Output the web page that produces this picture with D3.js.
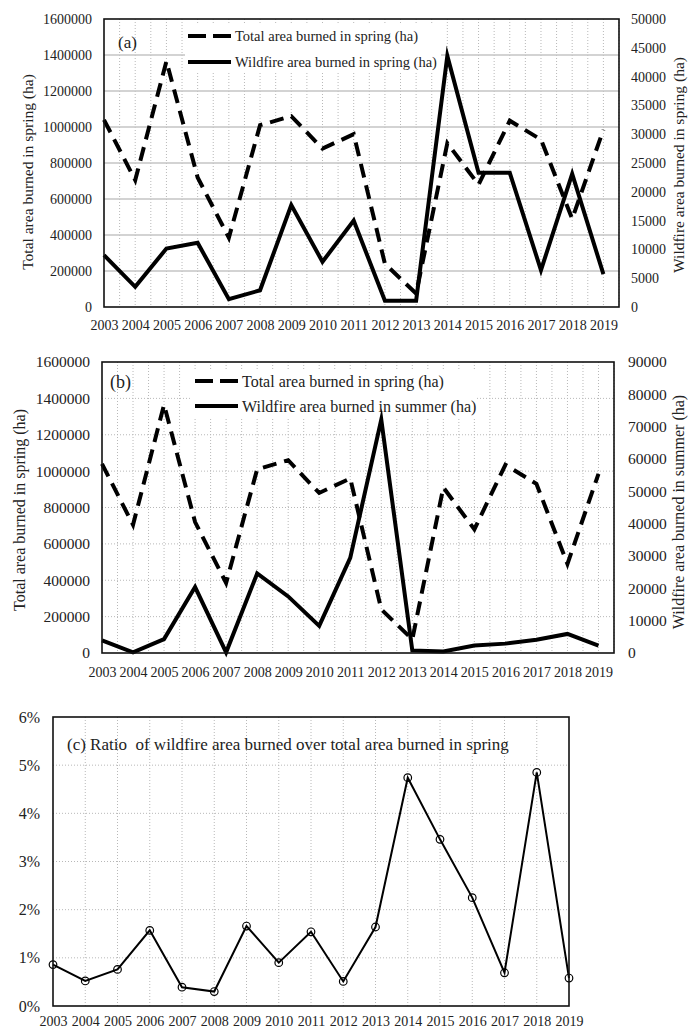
<!DOCTYPE html>
<html>
<head>
<meta charset="utf-8">
<script src="https://cdn.jsdelivr.net/npm/d3@7"></script>
<style>
  html, body { margin: 0; padding: 0; background: #fff; }
  svg { display: block; }
  text { font-family: "Liberation Serif", "Times New Roman", serif; fill: #222; }
</style>
</head>
<body>
<svg id="chart" width="688" height="1030"></svg>
<script>
// ---- data ----
const years = d3.range(2003, 2020);
const springTotal = [1040000, 705000, 1365000, 720000, 385000, 1010000, 1060000, 880000, 960000, 240000, 75000, 910000, 680000, 1035000, 930000, 490000, 985000];
const springWildfire = [9000, 3500, 10150, 11150, 1350, 2900, 17700, 7850, 15000, 1100, 1100, 43600, 23300, 23300, 6400, 23100, 5700];
const summerWildfire = [3900, 200, 4300, 20400, 200, 24600, 17500, 8400, 29400, 72200, 800, 500, 2300, 2900, 4100, 5900, 2300];
const ratioPct = [0.86, 0.52, 0.76, 1.57, 0.39, 0.30, 1.66, 0.90, 1.54, 0.51, 1.64, 4.74, 3.46, 2.25, 0.69, 4.85, 0.58];

const leftTicksAB = d3.range(0, 1600001, 200000);
const rightTicksA = d3.range(0, 50001, 5000);
const rightTicksB = d3.range(0, 90001, 10000);
const ticksC = d3.range(0, 7, 1);

const svg = d3.select("#chart");
const fmt = d3.format("d");

function dualPanel(o) {
  const g = svg.append("g");
  const x = d3.scaleLinear().domain([2003, 2019.5]).range([o.x0, o.x1]);
  const yL = d3.scaleLinear().domain([0, 1600000]).range([o.y1, o.y0]);
  const yR = d3.scaleLinear().domain([0, o.rightMax]).range([o.y1, o.y0]);

  // vertical dotted grid every half year
  g.append("g").selectAll("line").data(d3.range(2003.5, 2019.6, 0.5)).join("line")
    .attr("x1", d => x(d)).attr("x2", d => x(d))
    .attr("y1", o.y0).attr("y2", o.y1)
    .attr("stroke", "#b8b8b8").attr("stroke-width", 1).attr("stroke-dasharray", "1,2");
  // horizontal grid at left ticks
  g.append("g").selectAll("line").data(leftTicksAB.slice(1, -1)).join("line")
    .attr("x1", o.x0).attr("x2", o.x1)
    .attr("y1", d => yL(d)).attr("y2", d => yL(d))
    .attr("stroke", o.solidH ? "#c4c4c4" : "#b8b8b8")
    .attr("stroke-width", o.solidH ? 1.5 : 1)
    .attr("stroke-dasharray", o.solidH ? null : "1,2");

  // legend box
  const lg = g.append("g");
  lg.append("rect").attr("x", o.leg.x - 3).attr("y", o.leg.y1 - 11)
    .attr("width", o.leg.w).attr("height", o.leg.y2 - o.leg.y1 + 22).attr("fill", "#fff");
  lg.append("line").attr("x1", o.leg.x).attr("x2", o.leg.x + 43)
    .attr("y1", o.leg.y1).attr("y2", o.leg.y1)
    .attr("stroke", "#000").attr("stroke-width", 4).attr("stroke-dasharray", "18,7");
  lg.append("line").attr("x1", o.leg.x).attr("x2", o.leg.x + 43)
    .attr("y1", o.leg.y2).attr("y2", o.leg.y2)
    .attr("stroke", "#000").attr("stroke-width", 4);
  lg.append("text").attr("x", o.leg.x + 47).attr("y", o.leg.y1).attr("dominant-baseline", "central")
    .style("font-size", o.legFont + "px").text(o.leg.t1);
  lg.append("text").attr("x", o.leg.x + 47).attr("y", o.leg.y2).attr("dominant-baseline", "central")
    .style("font-size", o.legFont + "px").text(o.leg.t2);
  g.append("text").attr("x", o.tag.x).attr("y", o.tag.y).attr("dominant-baseline", "central")
    .style("font-size", o.tag.size + "px").text(o.tag.t);

  // series
  const dashed = d3.line().x((d, i) => x(years[i])).y(d => yL(d));
  const solid = d3.line().x((d, i) => x(years[i])).y(d => yR(d));
  g.append("path").datum(springTotal).attr("d", dashed)
    .attr("fill", "none").attr("stroke", "#000").attr("stroke-width", 4)
    .attr("stroke-dasharray", "14,8").attr("stroke-linejoin", "miter");
  g.append("path").datum(o.wild).attr("d", solid)
    .attr("fill", "none").attr("stroke", "#000").attr("stroke-width", 4)
    .attr("stroke-linejoin", "miter").attr("stroke-miterlimit", 10);

  // frame
  g.append("rect").attr("x", o.x0).attr("y", o.y0)
    .attr("width", o.x1 - o.x0).attr("height", o.y1 - o.y0)
    .attr("fill", "none").attr("stroke", "#111").attr("stroke-width", 1.6);

  // axes (labels only, no tick marks)
  const aL = g.append("g").attr("transform", `translate(${o.x0},0)`)
    .call(d3.axisLeft(yL).tickValues(leftTicksAB).tickFormat(fmt).tickSize(0).tickPadding(o.padL));
  const aR = g.append("g").attr("transform", `translate(${o.x1},0)`)
    .call(d3.axisRight(yR).tickValues(o.rightTicks).tickFormat(fmt).tickSize(0).tickPadding(o.padR));
  const aX = g.append("g").attr("transform", `translate(0,${o.y1})`)
    .call(d3.axisBottom(x).tickValues(years).tickFormat(fmt).tickSize(0).tickPadding(o.padX));
  [aL, aR, aX].forEach(a => {
    a.select(".domain").remove();
    a.selectAll("text").style("font-size", o.tickFont + "px").attr("fill", "#222")
      .style("font-family", '"Liberation Serif", serif');
  });
  aX.selectAll("text").style("font-size", o.xFont + "px");

  g.append("text").attr("transform", `translate(${o.titleL.x},${o.titleL.y}) rotate(-90)`)
    .attr("text-anchor", "middle").attr("dominant-baseline", "central")
    .style("font-size", o.titleFont + "px").text("Total area burned in spring (ha)");
  g.append("text").attr("transform", `translate(${o.titleR.x},${o.titleR.y}) rotate(-90)`)
    .attr("text-anchor", "middle").attr("dominant-baseline", "central")
    .style("font-size", o.titleFont + "px").text(o.titleR.t);
}

// (a) spring wildfire vs total spring area
dualPanel({
  x0: 104, x1: 619, y0: 19, y1: 307, rightMax: 50000, rightTicks: rightTicksA,
  wild: springWildfire, solidH: true,
  padL: 12, padR: 12, padX: 13, tickFont: 14, xFont: 14, legFont: 14.5, titleFont: 15.5,
  leg: { x: 188, y1: 36, y2: 62, w: 256, t1: "Total area burned in spring (ha)", t2: "Wildfire area burned in spring (ha)" },
  tag: { x: 118, y: 42, size: 17, t: "(a)" },
  titleL: { x: 27, y: 172 },
  titleR: { x: 678, y: 165, t: "Wildfire area burned in spring (ha)" }
});

// (b) summer wildfire vs total spring area
dualPanel({
  x0: 102, x1: 614, y0: 362, y1: 653, rightMax: 90000, rightTicks: rightTicksB,
  wild: summerWildfire, solidH: false,
  padL: 12, padR: 14, padX: 14, tickFont: 15.5, xFont: 14, legFont: 16, titleFont: 16,
  leg: { x: 195, y1: 381, y2: 406, w: 285, t1: "Total area burned in spring (ha)", t2: "Wildfire area burned in summer (ha)" },
  tag: { x: 110, y: 382, size: 18, t: "(b)" },
  titleL: { x: 19, y: 510 },
  titleR: { x: 678, y: 512, t: "Wildfire area burned in summer (ha)" }
});

// (c) ratio of wildfire area over total spring area
(function () {
  const x0 = 53, x1 = 569, y0 = 717, y1 = 1006;
  const g = svg.append("g");
  const x = d3.scaleLinear().domain([2003, 2019]).range([x0, x1]);
  const y = d3.scaleLinear().domain([0, 6]).range([y1, y0]);

  g.append("g").selectAll("line").data(years.slice(1, -1)).join("line")
    .attr("x1", d => x(d)).attr("x2", d => x(d)).attr("y1", y0).attr("y2", y1)
    .attr("stroke", "#b8b8b8").attr("stroke-dasharray", "1,2");
  g.append("g").selectAll("line").data(ticksC.slice(1, -1)).join("line")
    .attr("x1", x0).attr("x2", x1).attr("y1", d => y(d)).attr("y2", d => y(d))
    .attr("stroke", "#b8b8b8").attr("stroke-dasharray", "1,2");

  g.append("text").attr("x", 67).attr("y", 744).attr("dominant-baseline", "central")
    .style("font-size", "17px").attr("xml:space", "preserve")
    .text("(c) Ratio  of wildfire area burned over total area burned in spring");

  const line = d3.line().x((d, i) => x(years[i])).y(d => y(d));
  g.append("path").datum(ratioPct).attr("d", line)
    .attr("fill", "none").attr("stroke", "#000").attr("stroke-width", 2).attr("stroke-linejoin", "miter");
  g.append("g").selectAll("circle").data(ratioPct).join("circle")
    .attr("cx", (d, i) => x(years[i])).attr("cy", d => y(d)).attr("r", 3.8)
    .attr("fill", "none").attr("stroke", "#000").attr("stroke-width", 1.2);

  g.append("rect").attr("x", x0).attr("y", y0).attr("width", x1 - x0).attr("height", y1 - y0)
    .attr("fill", "none").attr("stroke", "#111").attr("stroke-width", 1.6);

  const aL = g.append("g").attr("transform", `translate(${x0},0)`)
    .call(d3.axisLeft(y).tickValues(ticksC).tickFormat(d => d + "%").tickSize(0).tickPadding(13));
  const aX = g.append("g").attr("transform", `translate(0,${y1})`)
    .call(d3.axisBottom(x).tickValues(years).tickFormat(fmt).tickSize(0).tickPadding(10));
  [aL, aX].forEach(a => {
    a.select(".domain").remove();
    a.selectAll("text").attr("fill", "#222").style("font-family", '"Liberation Serif", serif');
  });
  aL.selectAll("text").style("font-size", "16px");
  aX.selectAll("text").style("font-size", "14px");
})();
</script>
</body>
</html>
